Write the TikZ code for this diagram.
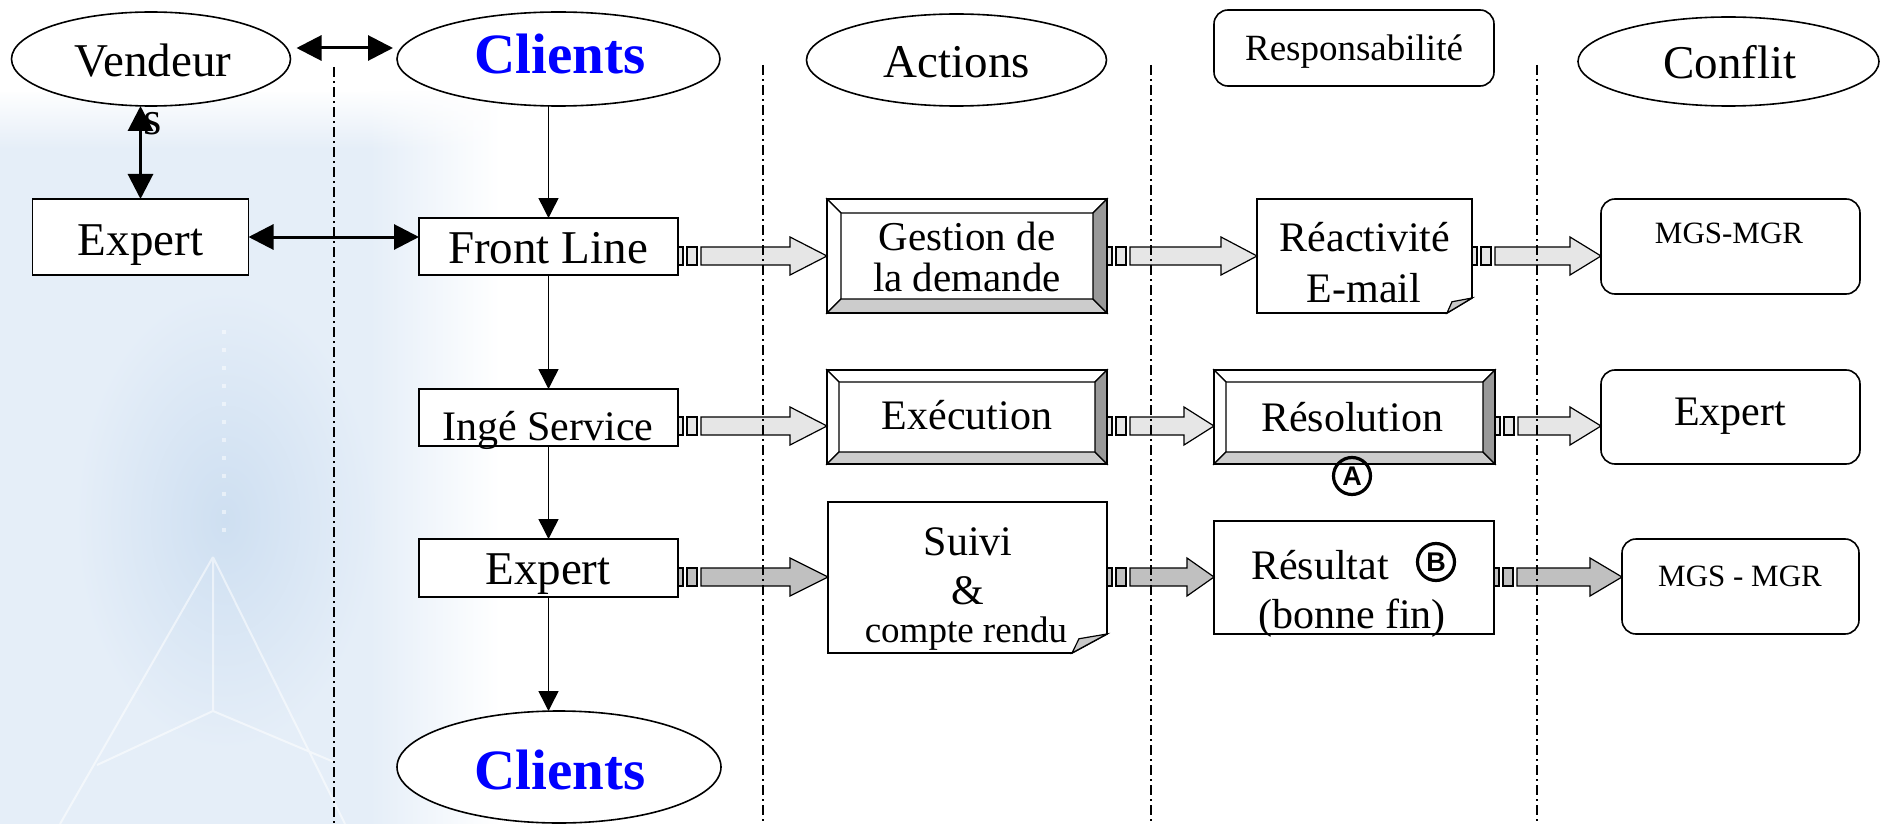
\documentclass[tikz,border=0pt]{standalone}
\usepackage{fontspec}
\setmainfont{Liberation Serif}
\newfontfamily\sansfam{Liberation Sans}
\usetikzlibrary{arrows.meta,calc,shapes.geometric,fadings}
\definecolor{clblue}{RGB}{0,0,255}
\definecolor{lightg}{RGB}{230,230,230}
\definecolor{darkg}{RGB}{192,192,192}
\definecolor{bevbot}{RGB}{204,204,204}
\definecolor{bevright}{RGB}{153,153,153}
\definecolor{foldgray}{RGB}{200,200,200}
\definecolor{bgA}{RGB}{229,238,248}
\definecolor{bgdark}{RGB}{206,223,241}
\newcommand\szA{\fontsize{47pt}{52pt}\selectfont}
\newcommand\szB{\fontsize{42pt}{46pt}\selectfont}
\newcommand\szBs{\fontsize{41pt}{45pt}\selectfont}
\newcommand\szC{\fontsize{37pt}{41pt}\selectfont}
\newcommand\szD{\fontsize{31pt}{35pt}\selectfont}
\newcommand\szE{\fontsize{57pt}{62pt}\selectfont\bfseries}
% block arrow: [head length]{source}{target}{y}{fill}
\newcommand\blockarrow[5][34]{%
  \coordinate (ba-y) at (0,#4);
  \coordinate (ba-s) at (#2.east |- ba-y);
  \coordinate (ba-t) at (#3.west |- ba-y);
  \filldraw[barrow,fill=#5] ($(ba-s)+(0,-9)$) rectangle ($(ba-s)+(5,9)$);
  \filldraw[barrow,fill=#5] ($(ba-s)+(9,-9)$) rectangle ($(ba-s)+(19,9)$);
  \filldraw[barrow,fill=#5] ($(ba-s)+(23,-9)$) -- ($(ba-t)+(-#1,-9)$) -- ($(ba-t)+(-#1,-19)$) -- (ba-t) -- ($(ba-t)+(-#1,19)$) -- ($(ba-t)+(-#1,9)$) -- ($(ba-s)+(23,9)$) -- cycle;
}
% bevelled frame on a box node
\newcommand\bevel[2]{%
  \coordinate (#1-a) at ($(#1.north west)+(#2,#2)$);
  \coordinate (#1-b) at ($(#1.north east)+(-#2,#2)$);
  \coordinate (#1-c) at ($(#1.south east)+(-#2,-#2)$);
  \coordinate (#1-d) at ($(#1.south west)+(#2,-#2)$);
  \filldraw[bev,fill=white] (#1.north west) -- (#1.north east) -- (#1-b) -- (#1-a) -- cycle;
  \filldraw[bev,fill=white] (#1.north west) -- (#1-a) -- (#1-d) -- (#1.south west) -- cycle;
  \filldraw[bev,fill=bevbot] (#1.south west) -- (#1-d) -- (#1-c) -- (#1.south east) -- cycle;
  \filldraw[bev,fill=bevright] (#1.north east) -- (#1.south east) -- (#1-c) -- (#1-b) -- cycle;
  \draw[line width=1.6pt] (#1.north west) rectangle (#1.south east);
}
% note with folded corner
\newcommand\notefold[3]{%
  \filldraw[fill=white, line width=1.6pt] (#1.north west) -- (#1.north east) -- ($(#1.south east)+(0,-#3)$) -- ($(#1.south east)+(-#2,0)$) -- (#1.south west) -- cycle;
  \filldraw[fill=foldgray, line width=1.2pt] ($(#1.south east)+(-#2,0)$) -- ($(#1.south east)+(0,-#3)$) -- ($(#1.south east)+({-0.8*#2},{-0.75*#3})$) -- cycle;
}
\begin{document}
\begin{tikzpicture}[x=1pt,y=-1pt,
  box/.style={draw, line width=1.6pt, fill=white, inner sep=0pt, outer sep=0pt},
  rbox/.style={box, rounded corners=14pt},
  ell/.style={ellipse, draw, line width=1.6pt, fill=white, inner sep=0pt, outer sep=0pt},
  plainbox/.style={inner sep=0pt, outer sep=0pt},
  txt/.style={anchor=base, inner sep=0pt, outer sep=0pt},
  bigarrow/.style={line width=3pt, {Triangle[length=25pt,width=25pt]}-{Triangle[length=25pt,width=25pt]}},
  thinarrow/.style={line width=1.5pt, -{Triangle[length=20pt,width=20pt]}},
  barrow/.style={draw=black, line width=1.2pt, line join=miter},
  bev/.style={draw=black, line width=1.2pt},
  lane/.style={line width=1.5pt, dash pattern=on 10pt off 4pt on 2pt off 4pt},
  circ/.style={circle, draw, line width=3.2pt, minimum size=37pt, inner sep=0pt, font=\sansfam\bfseries\fontsize{27pt}{27pt}\selectfont}
]
\useasboundingbox (0,0) rectangle (1883,824);
% background
\fill[white] (0,0) rectangle (1883,824);
\fill[bgA] (0,92) rectangle (370,824);
\shade[left color=bgA, right color=white] (370,92) rectangle (500,824);
\shade[inner color=bgdark, outer color=bgA] (225,520) ellipse [x radius=150pt, y radius=230pt];
\draw[white, opacity=0.55, line width=2pt] (213,557) -- (60,824) (213,557) -- (345,824) (97,765) -- (213,711) -- (334,762) (213,557) -- (213,711);
\draw[white, opacity=0.5, line width=4pt, dash pattern=on 4pt off 14pt] (224,330) -- (224,540);
\fill[white, path fading=south] (0,90) rectangle (520,150);

% header nodes
\node[ell, minimum width=279pt, minimum height=94pt] (vend) at (151,59) {};
\node[ell, minimum width=323pt, minimum height=94pt] (cltop) at (558.5,59) {};
\node[ell, minimum width=300pt, minimum height=92pt] (act) at (956.5,60) {};
\node[rbox, minimum width=280pt, minimum height=76pt] (resp) at (1354,48) {};
\node[ell, minimum width=301pt, minimum height=89pt] (confl) at (1728.5,61.5) {};

% left column
\node[box, minimum width=216pt, minimum height=76pt] (exl) at (140.5,237) {};
\node[box, minimum width=259pt, minimum height=57pt] (fl) at (548.5,246.5) {};
\node[box, minimum width=259pt, minimum height=57pt] (ing) at (548.5,417.5) {};
\node[box, minimum width=259pt, minimum height=58pt] (exm) at (548.5,568) {};
\node[ell, minimum width=324pt, minimum height=112pt] (clbot) at (559,767) {};

% actions column
\node[box, minimum width=280pt, minimum height=114pt] (gest) at (967,256) {};
\bevel{gest}{14}
\node[box, minimum width=280pt, minimum height=94pt] (exe) at (967,417) {};
\bevel{exe}{12}
\node[plainbox, minimum width=279pt, minimum height=151pt] (suivi) at (967.5,577.5) {};
\notefold{suivi}{35}{19}

% responsabilite column
\node[plainbox, minimum width=215pt, minimum height=114pt] (reac) at (1364.5,256) {};
\notefold{reac}{25}{15}
\node[box, minimum width=281pt, minimum height=94pt] (reso) at (1354.5,417) {};
\bevel{reso}{12}
\node[box, minimum width=280pt, minimum height=113pt] (resu) at (1354,577.5) {};

% conflit column
\node[rbox, minimum width=259pt, minimum height=95pt] (mgsa) at (1730.5,246.5) {};
\node[rbox, minimum width=259pt, minimum height=94pt] (expr) at (1730.5,417) {};
\node[rbox, minimum width=237pt, minimum height=95pt] (mgsb) at (1740.5,586.5) {};

% texts
\node[txt, font=\szA] (tvend) at (153,77) {Vendeur};
\node[txt, font=\szE, text=clblue] (tcltop) at (560,74) {Clients};
\node[txt, font=\szA] (tact) at (957,78) {Actions};
\node[txt, font=\szC] (tresp) at (1354,61) {Responsabilité};
\node[txt, font=\szA] (tconfl) at (1730,79) {Conflit};
\node[txt, font=\szA] (ts) at (153,135) {s};
\node[txt, font=\szA] (texl) at (140.5,255) {Expert};
\node[txt, font=\szA] (tfl) at (548,263) {Front Line};
\node[txt, font=\szB] (ting) at (548,440) {Ingé Service};
\node[txt, font=\szA] (texm) at (548,584) {Expert};
\node[txt, font=\szE, text=clblue] (tclbot) at (560,789) {Clients};
\node[txt, font=\szBs] (tgest1) at (967,250) {Gestion de};
\node[txt, font=\szBs] (tgest2) at (967,291) {la demande};
\node[txt, font=\szB] (texe) at (967,429) {Exécution};
\node[txt, font=\szB] (tsuivi1) at (968,555) {Suivi};
\node[txt, font=\szB] (tsuivi2) at (968,604) {\&};
\node[txt, font=\szC] (tsuivi3) at (966,642) {compte rendu};
\node[txt, font=\szB] (treac1) at (1365,251) {Réactivité};
\node[txt, font=\szB] (treac2) at (1364,302) {E-mail};
\node[txt, font=\szB] (treso) at (1352,431) {Résolution};
\node[txt, font=\szB] (tresu1) at (1320,579) {Résultat};
\node[txt, font=\szB] (tresu2) at (1352,628) {(bonne fin)};
\node[txt, font=\szD] (tmgsa) at (1729,243) {MGS-MGR};
\node[txt, font=\szB] (texpr) at (1730,425) {Expert};
\node[txt, font=\szD] (tmgsb) at (1740,586) {MGS - MGR};
\node[circ] (cA) at (1352,476) {A};
\node[circ] (cB) at (1436,562) {B};

% black connectors
\draw[bigarrow] ($(vend.east)+(6,-11)$) -- ($(cltop.west)+(-4,-11)$);
\draw[bigarrow] (exl.north |- vend.south) -- (exl.north);
\draw[bigarrow] (exl.east) -- (fl.west |- exl.east);
\draw[thinarrow] (fl.north |- cltop.south) -- (fl.north);
\draw[thinarrow] (fl.south) -- (ing.north);
\draw[thinarrow] (ing.south) -- (exm.north);
\draw[thinarrow] (exm.south) -- (exm.south |- clbot.north);

% block arrows
\blockarrow[37]{fl}{gest}{256}{lightg}
\blockarrow[36]{gest}{reac}{256}{lightg}
\blockarrow[31]{reac}{mgsa}{256}{lightg}
\blockarrow[37]{ing}{exe}{426}{lightg}
\blockarrow[30]{exe}{reso}{426}{lightg}
\blockarrow[31]{reso}{expr}{426}{lightg}
\blockarrow[38]{exm}{suivi}{577}{darkg}
\blockarrow[27]{suivi}{resu}{577}{darkg}
\blockarrow[32]{resu}{mgsb}{577}{darkg}

% swimlane separators
\draw[lane] (334,67) -- (334,824);
\draw[lane] (763,65) -- (763,824);
\draw[lane] (1151,65) -- (1151,824);
\draw[lane] (1537,65) -- (1537,824);
\end{tikzpicture}
\end{document}
